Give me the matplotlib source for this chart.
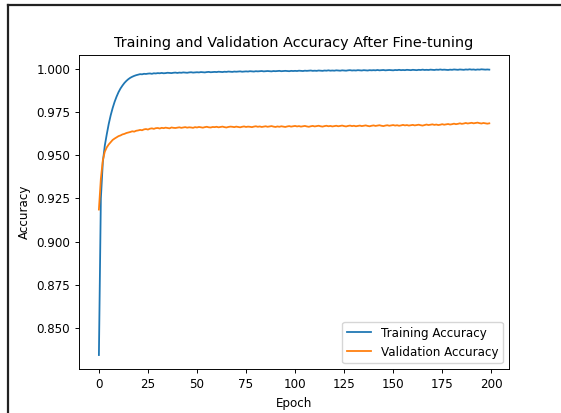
import matplotlib
matplotlib.use("Agg")
import matplotlib.pyplot as plt
from matplotlib.lines import Line2D

# valores (una fila = 10 epocas)
train_acc = [
    0.8346, 0.9250, 0.9460, 0.9555, 0.9620, 0.9680, 0.9730, 0.9772, 0.9808, 0.9838,
    0.9864, 0.9885, 0.9902, 0.9917, 0.9929, 0.9939, 0.9947, 0.9953, 0.9958, 0.9962,
    0.9965, 0.9968, 0.9967, 0.9970, 0.9969, 0.9971, 0.9972, 0.9970, 0.9973, 0.9972,
    0.9974, 0.9973, 0.9975, 0.9973, 0.9974, 0.9976, 0.9975, 0.9974, 0.9976, 0.9977,
    0.9975, 0.9977, 0.9976, 0.9978, 0.9977, 0.9976, 0.9978, 0.9979, 0.9977, 0.9978,
    0.9979, 0.9978, 0.9980, 0.9979, 0.9978, 0.9980, 0.9981, 0.9979, 0.9980, 0.9981,
    0.9980, 0.9982, 0.9981, 0.9980, 0.9982, 0.9981, 0.9983, 0.9982, 0.9981, 0.9983,
    0.9982, 0.9983, 0.9984, 0.9982, 0.9983, 0.9984, 0.9983, 0.9985, 0.9984, 0.9983,
    0.9985, 0.9984, 0.9985, 0.9986, 0.9984, 0.9985, 0.9986, 0.9985, 0.9984, 0.9986,
    0.9985, 0.9986, 0.9987, 0.9985, 0.9986, 0.9987, 0.9986, 0.9985, 0.9987, 0.9986,
    0.9987, 0.9986, 0.9988, 0.9987, 0.9986, 0.9988, 0.9987, 0.9988, 0.9989, 0.9987,
    0.9988, 0.9987, 0.9989, 0.9988, 0.9987, 0.9989, 0.9988, 0.9990, 0.9988, 0.9989,
    0.9988, 0.9990, 0.9989, 0.9988, 0.9990, 0.9989, 0.9988, 0.9990, 0.9991, 0.9989,
    0.9990, 0.9989, 0.9991, 0.9990, 0.9989, 0.9991, 0.9990, 0.9989, 0.9991, 0.9990,
    0.9991, 0.9990, 0.9992, 0.9990, 0.9991, 0.9992, 0.9990, 0.9991, 0.9992, 0.9991,
    0.9990, 0.9992, 0.9991, 0.9993, 0.9991, 0.9992, 0.9991, 0.9993, 0.9992, 0.9991,
    0.9993, 0.9992, 0.9991, 0.9993, 0.9992, 0.9994, 0.9992, 0.9993, 0.9992, 0.9994,
    0.9993, 0.9992, 0.9994, 0.9993, 0.9995, 0.9993, 0.9994, 0.9993, 0.9992, 0.9994,
    0.9993, 0.9995, 0.9994, 0.9993, 0.9995, 0.9994, 0.9993, 0.9995, 0.9994, 0.9996,
    0.9994, 0.9995, 0.9993, 0.9995, 0.9994, 0.9996, 0.9995, 0.9994, 0.9995, 0.9994,
]

val_acc = [
    0.9186, 0.9365, 0.9470, 0.9520, 0.9545, 0.9562, 0.9575, 0.9588, 0.9596, 0.9603,
    0.9610, 0.9614, 0.9620, 0.9623, 0.9628, 0.9631, 0.9634, 0.9638, 0.9636, 0.9641,
    0.9643, 0.9646, 0.9644, 0.9649, 0.9651, 0.9648, 0.9653, 0.9655, 0.9652, 0.9656,
    0.9657, 0.9654, 0.9658, 0.9656, 0.9659, 0.9657, 0.9655, 0.9660, 0.9658, 0.9657,
    0.9659, 0.9661, 0.9658, 0.9660, 0.9662, 0.9659, 0.9661, 0.9660, 0.9658, 0.9662,
    0.9660, 0.9663, 0.9661, 0.9659, 0.9662, 0.9664, 0.9661, 0.9660, 0.9663, 0.9662,
    0.9664, 0.9661, 0.9663, 0.9665, 0.9662, 0.9660, 0.9663, 0.9665, 0.9664, 0.9662,
    0.9665, 0.9663, 0.9661, 0.9664, 0.9666, 0.9663, 0.9665, 0.9664, 0.9662, 0.9665,
    0.9667, 0.9664, 0.9666, 0.9663, 0.9665, 0.9667, 0.9664, 0.9666, 0.9668, 0.9665,
    0.9663, 0.9666, 0.9664, 0.9667, 0.9665, 0.9663, 0.9666, 0.9668, 0.9665, 0.9667,
    0.9669, 0.9666, 0.9668, 0.9665, 0.9667, 0.9669, 0.9666, 0.9664, 0.9667, 0.9669,
    0.9666, 0.9668, 0.9670, 0.9667, 0.9665, 0.9668, 0.9670, 0.9667, 0.9669, 0.9666,
    0.9668, 0.9670, 0.9667, 0.9669, 0.9671, 0.9668, 0.9666, 0.9669, 0.9671, 0.9668,
    0.9670, 0.9667, 0.9669, 0.9671, 0.9668, 0.9670, 0.9672, 0.9669, 0.9667, 0.9670,
    0.9672, 0.9669, 0.9671, 0.9673, 0.9670, 0.9668, 0.9671, 0.9673, 0.9670, 0.9672,
    0.9674, 0.9671, 0.9673, 0.9670, 0.9672, 0.9675, 0.9672, 0.9674, 0.9671, 0.9673,
    0.9675, 0.9672, 0.9674, 0.9676, 0.9673, 0.9671, 0.9674, 0.9677, 0.9674, 0.9676,
    0.9678, 0.9675, 0.9677, 0.9674, 0.9676, 0.9679, 0.9676, 0.9678, 0.9680, 0.9677,
    0.9679, 0.9682, 0.9679, 0.9681, 0.9684, 0.9681, 0.9683, 0.9686, 0.9683, 0.9685,
    0.9687, 0.9684, 0.9686, 0.9688, 0.9685, 0.9683, 0.9686, 0.9684, 0.9682, 0.9684,
]

epochs = list(range(len(train_acc)))

# la captura es la figura por defecto reducida al ~86%
esc = 0.86
plt.rcParams['font.size'] = 10 * esc
plt.rcParams['lines.linewidth'] = 1.5 * esc
plt.rcParams['axes.linewidth'] = 0.8 * esc
plt.rcParams['xtick.major.size'] = 3.5 * esc
plt.rcParams['ytick.major.size'] = 3.5 * esc
plt.rcParams['xtick.major.width'] = 0.8 * esc
plt.rcParams['ytick.major.width'] = 0.8 * esc

fig = plt.figure(figsize=(5.61, 4.13), dpi=100)
ax = fig.add_axes([0.1415, 0.1058, 0.7655, 0.761])

ax.plot(epochs, train_acc, label='Training Accuracy')
ax.plot(epochs, val_acc, label='Validation Accuracy')

ax.set_title('Training and Validation Accuracy After Fine-tuning', fontsize=12 * esc)
ax.set_xlabel('Epoch')
ax.set_ylabel('Accuracy')
ax.legend(loc='lower right')

# marco negro de la captura (solo izquierda y arriba)
fig.add_artist(Line2D([8 / 561, 8 / 561], [0, 1 - 5 / 413], color='#222222', linewidth=1.6))
fig.add_artist(Line2D([8 / 561, 1], [1 - 5 / 413, 1 - 5 / 413], color='#222222', linewidth=1.6))

fig.savefig('out.png', dpi=100)
